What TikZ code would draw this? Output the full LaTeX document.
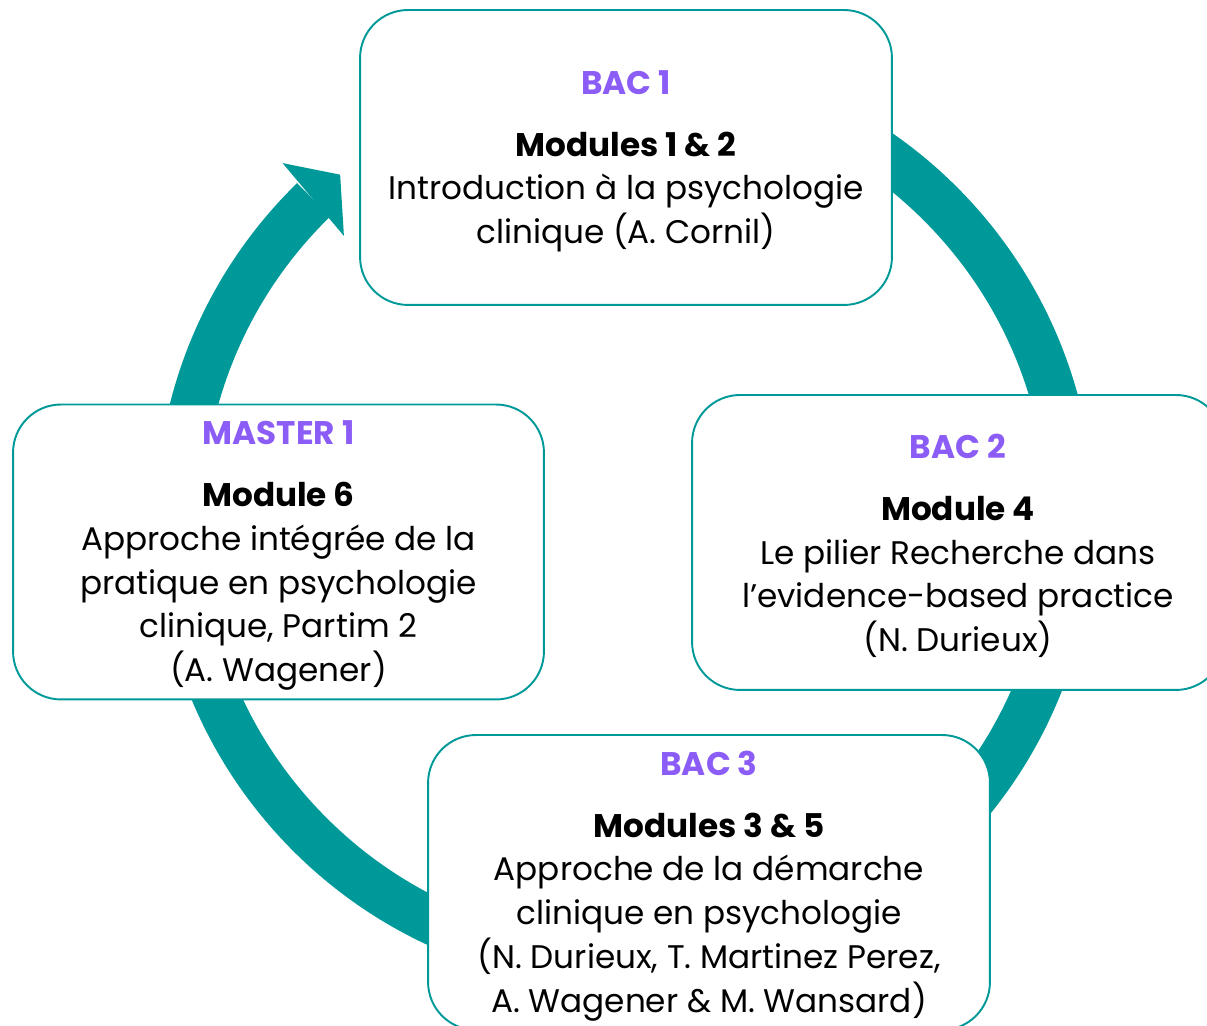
\documentclass[tikz,border=0pt]{standalone}
\usepackage{fontspec}
\setmainfont{Poppins}
\definecolor{sarcelle}{RGB}{0,153,153}
\definecolor{lilas}{RGB}{139,92,246}
\tikzset{
  etape/.style={draw=sarcelle, line width=1.1pt, fill=white, rounded corners=0.96cm,
    align=center, minimum height=5.9cm, font=\fontsize{18.6}{24.9}\selectfont},
}
\begin{document}
\begin{tikzpicture}[x=0.02cm, y=0.02cm]
    \useasboundingbox (0,0) rectangle (1207,1026);
    % Cercle
    \coordinate (ctr) at (625,507);
    \draw[sarcelle, line width=0.94cm] (ctr) ++(134.3:8.92cm) arc (134.3:450:8.92cm);
    % Pointe de la flèche
    \path (ctr) ++(133.9:9.88cm) coordinate (p1);
    \path (ctr) ++(129.6:8.94cm) coordinate (p2);
    \path (ctr) ++(134.8:7.98cm) coordinate (p3);
    \fill[sarcelle] (p1) -- (p2) -- (p3) -- cycle;
    % Étapes
    \node[etape, minimum width=10.64cm] (bacun) at (626,868.5)
      {\rule{0pt}{17.8pt}{\color{lilas}\bfseries BAC 1}\\[10.4pt]
       {\bfseries Modules 1 \& 2}\\
       Introduction à la psychologie\\
       clinique (A. Cornil)};
    \node[etape, minimum width=10.64cm] (bacdeux) at (958,483.5)
      {\rule{0pt}{17.8pt}{\color{lilas}\bfseries BAC 2}\\[10.4pt]
       {\bfseries Module 4}\\
       Le pilier Recherche dans\\
       l’evidence-based practice\\
       (N. Durieux)};
    \node[etape, minimum width=10.62cm] (masterun) at (278.5,474)
      {\rule{0pt}{17.8pt}{\color{lilas}\bfseries MASTER 1}\\[10.4pt]
       {\bfseries Module 6}\\
       Approche intégrée de la\\
       pratique en psychologie\\
       clinique, Partim 2\\
       (A. Wagener)};
    \node[etape, minimum width=11.24cm] (bactrois) at (709,143.5)
      {\rule{0pt}{17.8pt}{\color{lilas}\bfseries BAC 3}\\[10.4pt]
       {\bfseries Modules 3 \& 5}\\
       Approche de la démarche\\
       clinique en psychologie\\
       (N. Durieux, T. Martinez Perez,\\
       A. Wagener \& M. Wansard)};
\end{tikzpicture}
\end{document}
